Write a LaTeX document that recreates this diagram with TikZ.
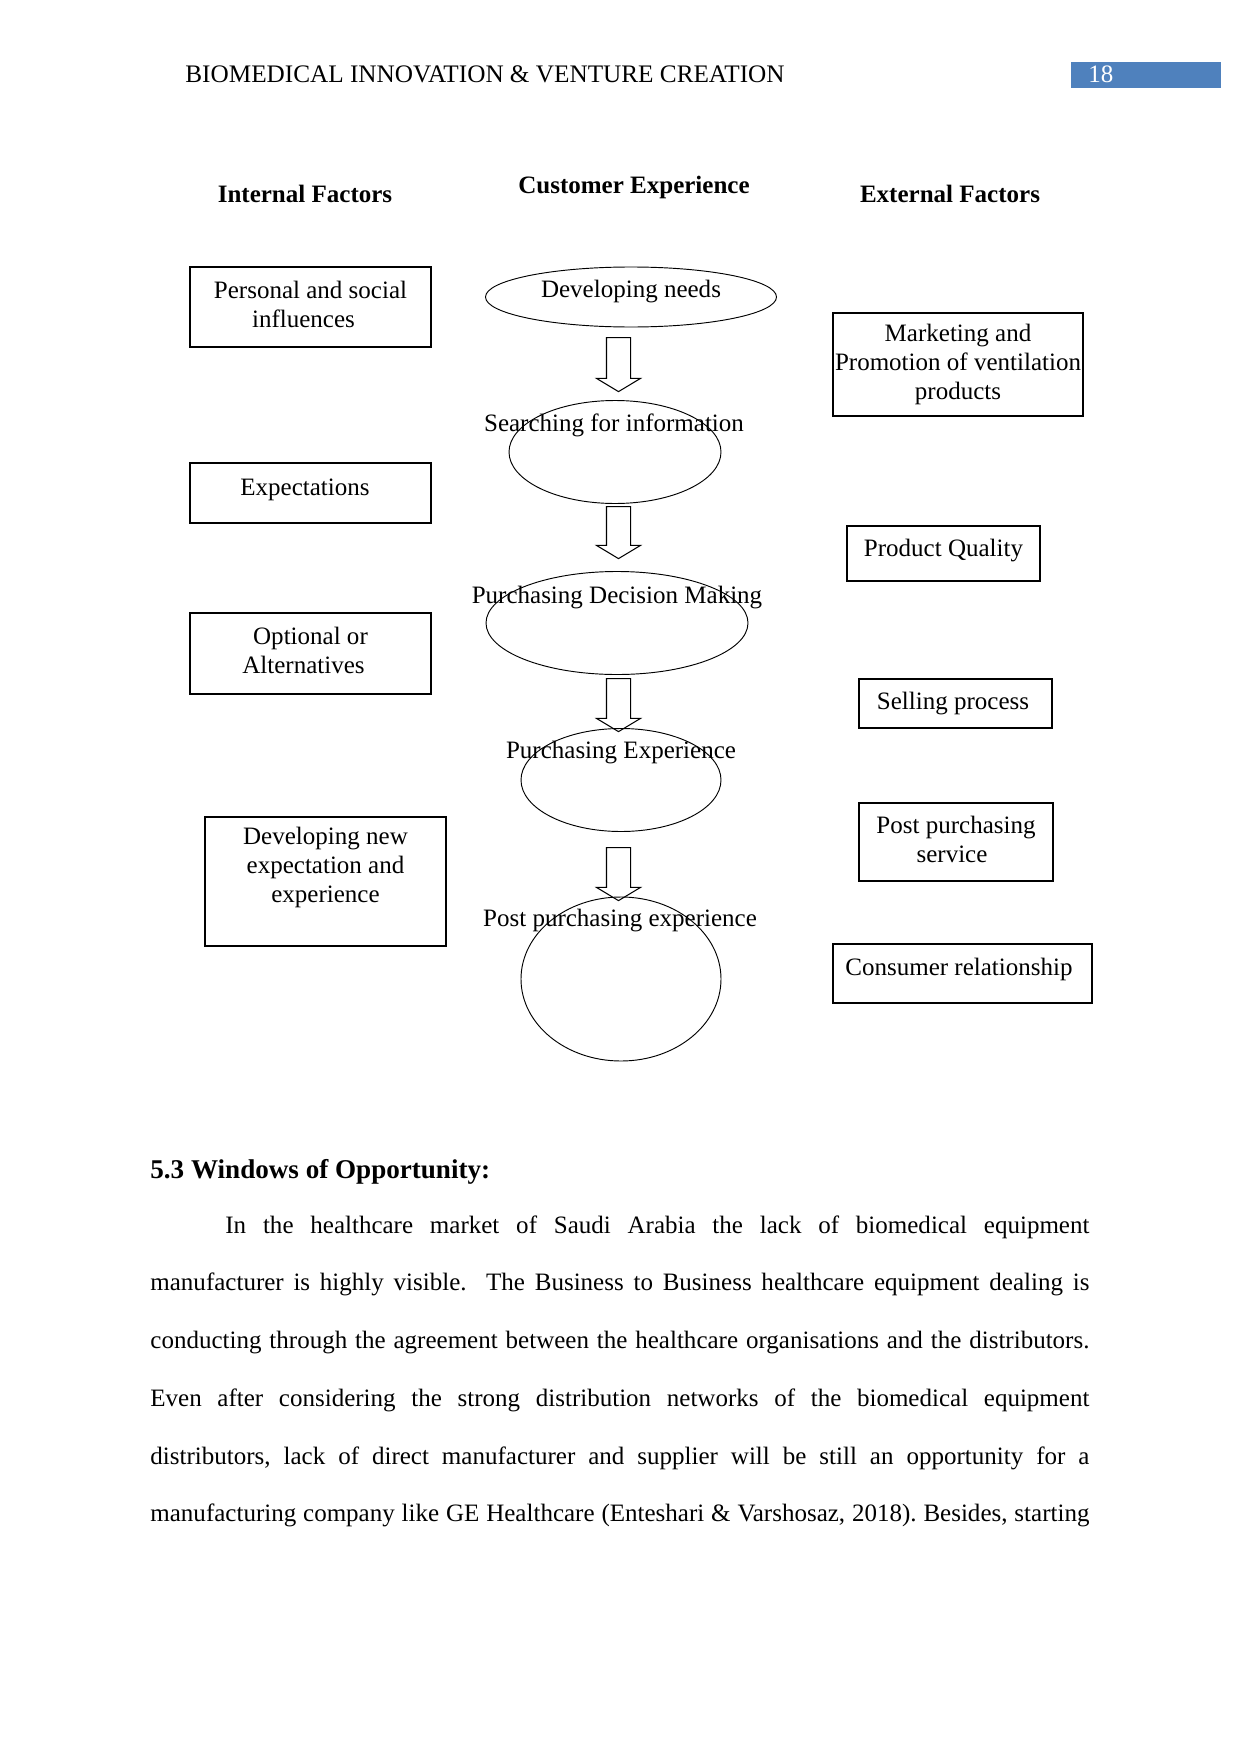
\documentclass[tikz,border=0pt]{standalone}
\usepackage{fontspec}
\setmainfont{Liberation Serif}
\usetikzlibrary{shapes.geometric,shapes.arrows}

\newdimen\pxl \pxl=0.4797pt
\definecolor{pageblue}{RGB}{79,129,189}

\tikzset{
  factor/.style={draw, line width=0.5pt, align=center, inner sep=0pt,
    font=\fontsize{12}{13.9}\selectfont},
  stage/.style={draw, ellipse, line width=0.45pt, inner sep=0pt, outer sep=0pt},
  stagelabel/.style={inner sep=0pt, font=\fontsize{12}{13.9}\selectfont},
  flowarrow/.style={draw, single arrow, line width=0.5pt, rotate=-90,
    inner xsep=0pt, inner ysep=11.5*\pxl, single arrow head extend=10*\pxl,
    single arrow tip angle=118},
  colhead/.style={anchor=base, inner sep=0pt, font=\bfseries\fontsize{12}{14}\selectfont},
  bodytext/.style={inner sep=0pt, text width=939*\pxl, align=justify,
    font=\fontsize{12}{27.7}\selectfont},
}

\begin{document}
\begin{tikzpicture}[x=0.4797pt, y=-0.4797pt]
  \useasboundingbox (0,0) rectangle (1241,1754);

  % running head
  \node[anchor=base west, inner sep=0pt, font=\fontsize{12.1}{14}\selectfont] (runhead)
    at (185,83) {BIOMEDICAL INNOVATION \& VENTURE CREATION};
  \node[fill=pageblue, anchor=north west, inner sep=0pt,
    minimum width=150*\pxl, minimum height=26*\pxl] (pagebox) at (1071,62) {};
  \node[anchor=base west, inner sep=0pt, text=white, font=\fontsize{12}{14}\selectfont]
    (pagenum) at (1088,83) {18};

  % column headings
  \node[colhead] (inthead) at (305,202) {Internal Factors};
  \node[colhead] (custhead) at (634,193) {Customer Experience};
  \node[colhead] (exthead) at (950,202) {External Factors};

  % internal factors
  \node[factor, minimum width=241*\pxl, minimum height=80*\pxl, text depth=2.2pt] (personal)
    at (310.5,307) {Personal and social\\\hspace*{-14\pxl}influences};
  \node[factor, minimum width=241*\pxl, minimum height=60*\pxl, text depth=6pt] (expect)
    at (310.5,493) {\hspace*{-11\pxl}Expectations};
  \node[factor, minimum width=241*\pxl, minimum height=81*\pxl, text depth=3.2pt] (option)
    at (310.5,653.5) {Optional or\\\hspace*{-14\pxl}Alternatives};
  \node[factor, minimum width=241*\pxl, minimum height=129*\pxl, text depth=16pt] (develop)
    at (325.5,881.5) {Developing new\\expectation and\\experience};

  % customer experience
  \node[stage, minimum width=291*\pxl, minimum height=60*\pxl] (needs) at (631,297) {};
  \node[stagelabel] (needstext) at (631,292) {Developing needs};
  \node[stage, minimum width=212*\pxl, minimum height=103*\pxl] (search) at (615,452) {};
  \node[stagelabel] (searchtext) at (614,425) {Searching for information};
  \node[stage, minimum width=262*\pxl, minimum height=103*\pxl] (decide) at (617,623) {};
  \node[stagelabel] (decidetext) at (617,598) {Purchasing Decision Making};
  \node[stage, minimum width=200*\pxl, minimum height=103*\pxl] (purchase) at (621,780) {};
  \node[stagelabel] (purchasetext) at (621,753) {Purchasing Experience};
  \node[stage, minimum width=200*\pxl, minimum height=164*\pxl] (after) at (621,979) {};
  \node[stagelabel] (aftertext) at (620,921) {Post purchasing experience};

  \node[flowarrow, minimum height=54*\pxl] (flow1) at (618.5,361) {};
  \node[flowarrow, minimum height=52*\pxl] (flow2) at (618.5,529) {};
  \node[flowarrow, minimum height=53*\pxl] (flow3) at (618.5,701.5) {};
  \node[flowarrow, minimum height=53*\pxl] (flow4) at (618.5,870.5) {};

  % external factors
  \node[factor, minimum width=250*\pxl, minimum height=103*\pxl] (market)
    at (958,364.5) {Marketing and\\Promotion of ventilation\\products};
  \node[factor, minimum width=193*\pxl, minimum height=55*\pxl, text depth=5pt] (quality)
    at (943.5,553.5) {Product Quality};
  \node[factor, minimum width=193*\pxl, minimum height=49*\pxl] (selling)
    at (955.5,703.5) {\hspace*{-5\pxl}Selling process};
  \node[factor, minimum width=194*\pxl, minimum height=78*\pxl, text depth=2.6pt] (service)
    at (956,842) {Post purchasing\\\hspace*{-8\pxl}service};
  \node[factor, minimum width=259*\pxl, minimum height=59*\pxl, text depth=6pt] (relation)
    at (962.5,973.5) {\hspace*{-7\pxl}Consumer relationship};

  % section text
  \node[anchor=base west, inner sep=0pt, font=\bfseries\fontsize{13}{15}\selectfont]
    (section) at (150,1178) {5.3 Windows of Opportunity:};
  \node[bodytext, anchor=north west] (para) at (150,1215) {\frenchspacing
    \spaceskip=3pt plus 6pt minus 1.5pt
    \hspace*{75\pxl}In the healthcare market of Saudi Arabia the lack of biomedical equipment\linebreak
    manufacturer is highly visible.\ \ The Business to Business healthcare equipment dealing is\linebreak
    conducting through the agreement between the healthcare organisations and the distributors.\linebreak
    Even after considering the strong distribution networks of the biomedical equipment\linebreak
    distributors, lack of direct manufacturer and supplier will be still an opportunity for a\linebreak
    \makebox[\linewidth][s]{manufacturing company like GE Healthcare (Enteshari \& Varshosaz, 2018). Besides, starting}};
\end{tikzpicture}
\end{document}
